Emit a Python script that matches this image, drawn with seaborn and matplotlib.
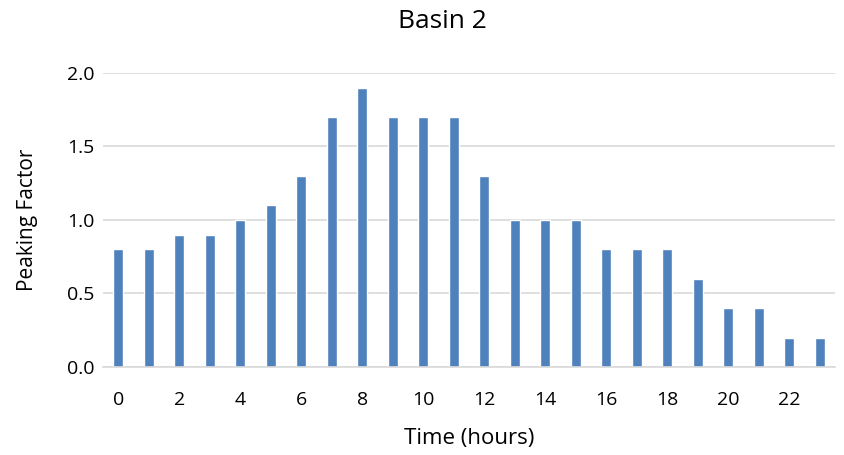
import matplotlib
matplotlib.use("Agg")
import matplotlib.pyplot as plt
import seaborn as sns
import pandas as pd

hours = list(range(24))
peaking_factor = [0.8, 0.8, 0.9, 0.9, 1.0, 1.1, 1.3, 1.7, 1.9, 1.7, 1.7, 1.7,
                  1.3, 1.0, 1.0, 1.0, 0.8, 0.8, 0.8, 0.6, 0.4, 0.4, 0.2, 0.2]
x_tick_labels = [str(h) for h in range(0, 24, 2)]
y_ticks = [0.0, 0.5, 1.0, 1.5, 2.0]

sns.set_style("white")
plt.rcParams['font.family'] = ['Open Sans', 'DejaVu Sans']
plt.rcParams['text.color'] = 'black'
plt.rcParams['axes.labelcolor'] = 'black'
plt.rcParams['xtick.color'] = 'black'
plt.rcParams['ytick.color'] = 'black'

df = pd.DataFrame({"hour": hours, "pf": peaking_factor})

fig = plt.figure(figsize=(8.45, 4.55), dpi=100)
ax = fig.add_axes([0.1219, 0.1934, 0.8661, 0.6462])
sns.barplot(data=df, x="hour", y="pf", color="#4F81BD", saturation=1,
            width=0.33, ax=ax, order=hours)

ax.set_xlim(-0.5, 23.5)
ax.set_ylim(0, 2.0)
ax.set_yticks(y_ticks)
ax.set_yticklabels([f"{v:.1f}" for v in y_ticks], fontsize=14)
ax.set_xticks(list(range(0, 24, 2)))
ax.set_xticklabels(x_tick_labels, fontsize=14)
ax.yaxis.grid(True, color="#D9D9D9", linewidth=1.2)
ax.set_axisbelow(True)
for s in ["top", "right", "left"]:
    ax.spines[s].set_visible(False)
ax.spines["bottom"].set_color("#D9D9D9")
ax.spines["bottom"].set_linewidth(1.2)
ax.tick_params(axis="x", length=0, pad=17)
ax.tick_params(axis="y", length=0, pad=6)
ax.set_xlabel("Time (hours)", fontsize=16, labelpad=14)
ax.set_ylabel("Peaking Factor", fontsize=15, labelpad=21)
fig.text(442 / 845, 1 - 21 / 455, "Basin 2", fontsize=19, ha="center", va="center")

fig.savefig("out.png", dpi=100)
